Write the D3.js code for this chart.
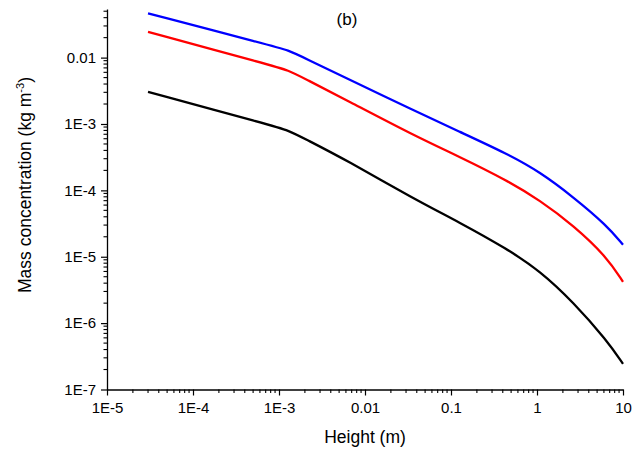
<!DOCTYPE html>
<html>
<head>
<meta charset="utf-8">
<script src="https://cdn.jsdelivr.net/npm/d3@7"></script>
<style>
  body { margin: 0; background: #fff; }
  svg { display: block; font-family: 'Liberation Sans', Arial, sans-serif; }
</style>
</head>
<body>
<svg id="chart" width="633" height="452"></svg>
<script>
// values
const heights = [3.0e-5, 7.9e-4, 1.28e-3, 2.0e-3, 6.12e-3, 0.0365, 0.127, 0.445, 1.08, 2.64, 6.46, 10]
const blueConc = [0.0464, 0.01533, 0.01297, 9.83e-3, 4.86e-3, 1.615e-3, 7.6e-4, 3.59e-4, 1.894e-4, 7.95e-5, 2.97e-5, 1.52e-5]
const redConc = [0.02449, 7.7e-3, 6.48e-3, 4.81e-3, 2.286e-3, 6.78e-4, 3.19e-4, 1.42e-4, 7.09e-5, 2.98e-5, 1.0e-5, 4.18e-6]
const blackConc = [3.05e-3, 9.59e-4, 8.06e-4, 5.98e-4, 2.84e-4, 7.52e-5, 3.27e-5, 1.32e-5, 6.13e-6, 2.07e-6, 5.52e-7, 2.44e-7]

const xTickValues = [1e-5, 1e-4, 1e-3, 0.01, 0.1, 1, 10]
const xTickLabels = ['1E-5', '1E-4', '1E-3', '0.01', '0.1', '1', '10']
const yTickValues = [1e-7, 1e-6, 1e-5, 1e-4, 1e-3, 0.01]
const yTickLabels = ['1E-7', '1E-6', '1E-5', '1E-4', '1E-3', '0.01']

const series = [
  { name: 'black', values: blackConc, color: '#000000' },
  { name: 'red', values: redConc, color: '#ff0000' },
  { name: 'blue', values: blueConc, color: '#0000ff' }
]

const svg = d3.select('#chart')
const plotLeft = 107, plotRight = 623, plotTop = 9, plotBottom = 389.5

const xScale = d3.scaleLog().domain([1e-5, 10]).range([plotLeft, plotRight])
const yScale = d3.scaleLog().domain([1e-7, 0.054]).range([plotBottom, plotTop])

// minor ticks 2..9 inside each decade
const minors = (scale) => {
  const [a, b] = scale.domain()
  const out = []
  for (let e = Math.floor(Math.log10(a)); e < Math.ceil(Math.log10(b)); e++) {
    for (let m = 2; m <= 9; m++) {
      const v = m * Math.pow(10, e)
      if (v > a && v < b) out.push(v)
    }
  }
  return out
}

const xAxis = d3.axisBottom(xScale)
  .tickValues(xTickValues)
  .tickFormat((d, i) => xTickLabels[i])
  .tickSize(6)
  .tickSizeOuter(0)
  .tickPadding(7)

const yAxis = d3.axisLeft(yScale)
  .tickValues(yTickValues)
  .tickFormat((d, i) => yTickLabels[i])
  .tickSize(6)
  .tickSizeOuter(0)
  .tickPadding(5)

function customAxis (g, axis) {
  g.call(axis)
  g.select('.domain').style('stroke', '#000').style('stroke-width', 1.3)
  g.selectAll('.tick line').style('stroke', '#000').style('stroke-width', 1.2)
  g.selectAll('.tick text')
    .style('font-size', '15px')
    .style('fill', '#000')
}

const gx = svg.append('g').attr('transform', `translate(0,${plotBottom})`)
customAxis(gx, xAxis)
gx.selectAll('.minor').data(minors(xScale)).enter().append('line')
  .attr('x1', d => xScale(d)).attr('x2', d => xScale(d))
  .attr('y1', 0).attr('y2', 3.5)
  .style('stroke', '#000').style('stroke-width', 1.1)

const gy = svg.append('g').attr('transform', `translate(${plotLeft},0)`)
customAxis(gy, yAxis)
gy.selectAll('.minor').data(minors(yScale)).enter().append('line')
  .attr('y1', d => yScale(d)).attr('y2', d => yScale(d))
  .attr('x1', 0).attr('x2', -3.5)
  .style('stroke', '#000').style('stroke-width', 1.1)

const lineGenerator = d3.line()
  .x((d, i) => xScale(heights[i]))
  .y(d => yScale(d))
  .curve(d3.curveBasis)

svg.selectAll('.series').data(series).enter().append('path')
  .attr('class', 'series')
  .attr('d', d => lineGenerator(d.values))
  .attr('fill', 'none')
  .attr('stroke', d => d.color)
  .attr('stroke-width', 2.3)
  .attr('stroke-linejoin', 'round')

// labels
svg.append('text')
  .attr('x', (plotLeft + plotRight) / 2).attr('y', 443)
  .attr('text-anchor', 'middle')
  .style('font-size', '17.5px')
  .text('Height (m)')

const yLabel = svg.append('text')
  .attr('transform', 'translate(31,185) rotate(-90)')
  .attr('text-anchor', 'middle')
  .style('font-size', '17.5px')
yLabel.append('tspan').text('Mass concentration (kg m')
yLabel.append('tspan').attr('dy', -7).style('font-size', '11px').text('-3')
yLabel.append('tspan').attr('dy', 7).text(')')

svg.append('text')
  .attr('x', 347).attr('y', 25)
  .attr('text-anchor', 'middle')
  .style('font-size', '17px')
  .text('(b)')
</script>
</body>
</html>
